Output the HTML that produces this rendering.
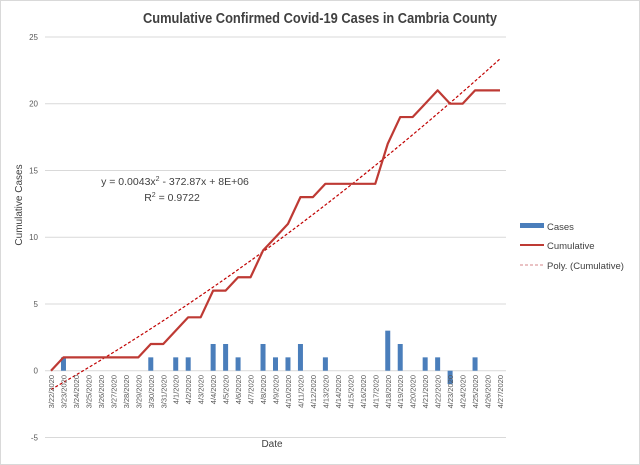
<!DOCTYPE html>
<html><head><meta charset="utf-8"><style>
body{margin:0;background:#fff}
svg{display:block;font-family:"Liberation Sans",sans-serif}
</style></head><body>
<svg id="chart" width="640" height="465" viewBox="0 0 640 465">
<rect x="0.5" y="0.5" width="639" height="464" fill="#fff" stroke="#d9d9d9"/>
<text x="143" y="23" textLength="354" lengthAdjust="spacingAndGlyphs" font-size="14.5" font-weight="bold" fill="#404040">Cumulative Confirmed Covid-19 Cases in Cambria County</text>
<text transform="translate(22,205) rotate(-90)" text-anchor="middle" font-size="10" fill="#404040">Cumulative Cases</text>
<text x="272" y="447" text-anchor="middle" font-size="10" fill="#404040">Date</text>
<text x="175" y="185" text-anchor="middle" font-size="10.5" fill="#404040">y = 0.0043x<tspan font-size="7" dy="-4">2</tspan><tspan dy="4"> - 372.87x + 8E+06</tspan></text>
<text x="172" y="201" text-anchor="middle" font-size="10.5" fill="#404040">R<tspan font-size="7" dy="-4">2</tspan><tspan dy="4"> = 0.9722</tspan></text>
<g id="grid"></g><g id="bars"></g><g id="lines"></g><g id="xlabels"></g>
<g>
<rect x="520" y="223" width="24" height="5" fill="#4a7ebb"/>
<text x="547" y="230" font-size="9.5" fill="#404040">Cases</text>
<line x1="520" y1="245" x2="544" y2="245" stroke="#be3a34" stroke-width="2"/>
<text x="547" y="249" font-size="9.5" fill="#404040">Cumulative</text>
<line x1="520" y1="265" x2="544" y2="265" stroke="#d4868a" stroke-width="1" stroke-dasharray="3,2"/>
<text x="547" y="269" font-size="9.5" fill="#404040">Poly. (Cumulative)</text>
</g>
</svg>
<script>
const dates=["3/22/2020","3/23/2020","3/24/2020","3/25/2020","3/26/2020","3/27/2020","3/28/2020","3/29/2020","3/30/2020","3/31/2020","4/1/2020","4/2/2020","4/3/2020","4/4/2020","4/5/2020","4/6/2020","4/7/2020","4/8/2020","4/9/2020","4/10/2020","4/11/2020","4/12/2020","4/13/2020","4/14/2020","4/15/2020","4/16/2020","4/17/2020","4/18/2020","4/19/2020","4/20/2020","4/21/2020","4/22/2020","4/23/2020","4/24/2020","4/25/2020","4/26/2020","4/27/2020"];
const cases=[0,1,0,0,0,0,0,0,1,0,1,1,0,2,2,1,0,2,1,1,2,0,1,0,0,0,0,3,2,0,1,1,-1,0,1,0,0];
const cumulative=[0,1,1,1,1,1,1,1,2,2,3,4,4,6,6,7,7,9,10,11,13,13,14,14,14,14,14,17,19,19,20,21,20,20,21,21,21];
const yTicks=[-5,0,5,10,15,20,25];
const NS="http://www.w3.org/2000/svg";
const x0=51,x1=500,yZero=370.7,ppu=13.35;
const X=i=>x0+i*(x1-x0)/(dates.length-1);
const Y=v=>yZero-v*ppu;
function mk(tag,attrs,parent){const e=document.createElementNS(NS,tag);for(const k in attrs)e.setAttribute(k,attrs[k]);document.getElementById(parent).appendChild(e);return e;}
yTicks.forEach(t=>{
 const l=mk('line',{x1:45,x2:506,y1:Y(t),y2:Y(t),stroke:'#d9d9d9','stroke-width':1},'grid');
 
 
 const tx=mk('text',{x:38,y:Y(t)+3,'text-anchor':'end','font-size':8,fill:'#595959'},'grid');
 tx.textContent=t;
 
 
});
cases.forEach((v,i)=>{
 if(v===0)return;
 const r=mk('rect',{x:X(i)-2.5,width:5,y:Math.min(Y(v),Y(0)),height:Math.abs(Y(v)-Y(0)),fill:'#4a7ebb'},'bars');
 
 
});
dates.forEach((d,i)=>{
 const t=mk('text',{transform:`translate(${X(i)+3},375) rotate(-90)`,'text-anchor':'end','font-size':7.5,fill:'#595959'},'xlabels');
 t.textContent=d;
 
 
});
(function(){
 const n=cumulative.length;let S=[0,0,0,0,0],T=[0,0,0];
 for(let i=0;i<n;i++){for(let p=0;p<5;p++)S[p]+=Math.pow(i,p);for(let p=0;p<3;p++)T[p]+=cumulative[i]*Math.pow(i,p);}
 const A=[[S[0],S[1],S[2],T[0]],[S[1],S[2],S[3],T[1]],[S[2],S[3],S[4],T[2]]];
 for(let c=0;c<3;c++){for(let r=c+1;r<3;r++){const f=A[r][c]/A[c][c];for(let k=c;k<4;k++)A[r][k]-=f*A[c][k];}}
 const b=[0,0,0];for(let r=2;r>=0;r--){let s=A[r][3];for(let k=r+1;k<3;k++)s-=A[r][k]*b[k];b[r]=s/A[r][r];}
 let pts=[];for(let i=0;i<=n-1+1e-9;i+=0.25){pts.push(X(i)+','+Y(b[0]+b[1]*i+b[2]*i*i));}
 const p=mk('polyline',{points:pts.join(' '),fill:'none',stroke:'#c00000','stroke-width':1.2,'stroke-dasharray':'3,2'},'lines');
 
 
})();
const cl=mk('polyline',{points:cumulative.map((v,i)=>X(i)+','+Y(v)).join(' '),fill:'none',stroke:'#be3a34','stroke-width':2.2,'stroke-linejoin':'round'},'lines');


</script>
</body></html>
